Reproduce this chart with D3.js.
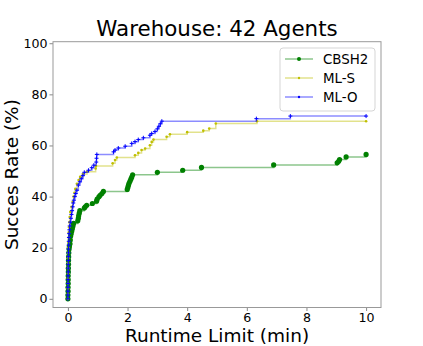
<!DOCTYPE html>
<html>
<head>
<meta charset="utf-8">
<script src="https://cdn.jsdelivr.net/npm/d3@7"></script>
<style>
	body { margin: 0; background: #fff; }
	svg text { font-family: "DejaVu Sans", sans-serif; fill: #000; }
</style>
</head>
<body>
<div id="chart"></div>
<script>

// runtime limit (min) / success rate (%)
var cbsh2Times = [0, 0, 0.005, 0.005, 0.01, 0.01, 0.01, 0.015, 0.015, 0.02, 0.02, 0.025, 0.03, 0.04, 0.05, 0.07, 0.08, 0.09, 0.11, 0.13, 0.15, 0.17, 0.19,
	0.33, 0.35, 0.36, 0.38, 0.40, 0.55, 0.58, 0.63, 0.82, 0.96, 0.98, 1.04, 1.08, 1.14, 1.19,
	1.99, 2.01, 2.03, 2.05, 2.08, 2.11, 2.14, 2.17, 3.0, 3.85, 4.48, 6.9, 9.03, 9.08, 9.11, 9.33, 10.0];
var cbsh2Rates = [0, 1.5, 3, 4.5, 6, 7.5, 9, 10.5, 12, 13.5, 15, 16.5, 18, 19.5, 20.5, 21.5, 23, 24.5, 25.5, 26.5, 27.5, 28.5, 29.5,
	30.5, 31.5, 32.5, 33.5, 34.5, 35.5, 36, 36.6, 37.3, 38.2, 39, 39.9, 40.5, 41.2, 42,
	42.8, 43.6, 44.4, 45.2, 46, 46.8, 47.6, 48.5, 49.5, 50.3, 51.4, 52.4, 53.2, 53.8, 54.5, 55.5, 56.5];

var mlsTimes = [0, 0, 0, 0.005, 0.005, 0.01, 0.01, 0.01, 0.015, 0.015, 0.02, 0.02, 0.025, 0.03, 0.04, 0.05, 0.06, 0.08, 0.12, 0.16, 0.19,
	0.22, 0.25, 0.3, 0.36, 0.41, 0.5, 0.64, 0.93, 0.94, 1.5, 1.58, 1.64, 2.25, 2.36, 2.47, 2.59, 2.75, 2.81, 2.87,
	3.31, 3.42, 4.0, 4.54, 4.74, 4.96, 6.34, 10.0];
var mlsRates = [0, 2, 4, 6, 8, 10, 12, 14, 16, 18, 20, 22, 24, 26, 28, 30, 32, 34, 36, 38, 40,
	41.5, 43, 45, 46.5, 47.7, 48.8, 49.7, 51, 52, 53, 54.3, 55.3, 56.2, 57.1, 58.2, 58.8, 60.1, 61.4, 62.3,
	63.4, 64.4, 65.2, 65.8, 66.6, 68.6, 69.5, 69.5];

var mloTimes = [0, 0, 0, 0, 0.005, 0.005, 0.005, 0.01, 0.01, 0.01, 0.015, 0.015, 0.02, 0.02, 0.025, 0.03, 0.035, 0.04, 0.05, 0.06, 0.08,
	0.1, 0.12, 0.14, 0.16, 0.18, 0.2, 0.23, 0.26, 0.3, 0.35, 0.4, 0.45, 0.5, 0.55, 0.69, 0.8, 0.87, 0.95, 0.96, 0.97,
	1.53, 1.58, 1.69, 1.92, 2.14, 2.25, 2.36, 2.53, 2.75, 2.81, 2.92, 3.0, 3.05, 3.1, 3.15, 6.32, 7.46, 10.0];
var mloRates = [0, 1.5, 3, 4.5, 6, 7.5, 9, 10.5, 12, 13.5, 15, 16.5, 18, 19.5, 21, 22.5, 24, 25.5, 27, 28.5, 30,
	31.5, 33, 34.5, 36, 37.5, 38.6, 40, 41.2, 42.5, 44.5, 45.8, 47, 48.2, 49.5, 50.3, 51.3, 52.3, 53.5, 55, 56.5,
	57.5, 58.2, 59, 59.7, 60.8, 61.5, 62.3, 63, 64, 64.7, 65.5, 66.5, 67.5, 68.5, 69.5, 70.5, 71.5, 71.5];

var seriesNames = ["CBSH2", "ML-S", "ML-O"];
var xTicks = [0, 2, 4, 6, 8, 10];
var yTicks = [0, 20, 40, 60, 80, 100];

var dimensions = {
	width: 423,
	height: 346,
	plot: { left: 53, right: 381, top: 41.7, bottom: 307.5 }
};

var styles = {
	"CBSH2": { color: "#008000", marker: "dot", r: 2.6 },
	"ML-S": { color: "#bfbf00", marker: "dot", r: 1.3 },
	"ML-O": { color: "#0000ff", marker: "plus", r: 2 }
};

var series = [
	{ name: "CBSH2", values: d3.zip(cbsh2Times, cbsh2Rates) },
	{ name: "ML-S", values: d3.zip(mlsTimes, mlsRates) },
	{ name: "ML-O", values: d3.zip(mloTimes, mloRates) }
];

var x = d3.scaleLinear().domain([-0.5, 10.5]).range([dimensions.plot.left, dimensions.plot.right]);
var y = d3.scaleLinear().domain([-3.4, 100.6]).range([dimensions.plot.bottom, dimensions.plot.top]);

var svg = d3.select("#chart")
	.append("svg")
	.attr("width", dimensions.width)
	.attr("height", dimensions.height);

svg.append("rect")
	.attr("width", dimensions.width)
	.attr("height", dimensions.height)
	.attr("fill", "#fff");

// axes
var xAxis = svg.append("g")
	.attr("transform", "translate(0," + dimensions.plot.bottom + ")")
	.call(d3.axisBottom(x).tickValues(xTicks).tickSize(3.5).tickPadding(2).tickSizeOuter(0));

var yAxis = svg.append("g")
	.attr("transform", "translate(" + dimensions.plot.left + ",0)")
	.call(d3.axisLeft(y).tickValues(yTicks).tickSize(3.5).tickPadding(2).tickSizeOuter(0));

[xAxis, yAxis].forEach(function(a) {
	a.select(".domain").remove();
	a.selectAll(".tick line").attr("stroke", "#888");
	a.selectAll(".tick text").attr("font-size", 12.6).attr("fill", "#111");
});

// frame
svg.append("rect")
	.attr("x", dimensions.plot.left)
	.attr("y", dimensions.plot.top)
	.attr("width", dimensions.plot.right - dimensions.plot.left)
	.attr("height", dimensions.plot.bottom - dimensions.plot.top)
	.attr("fill", "none")
	.attr("stroke", "#999")
	.attr("stroke-width", 1);

var line = d3.line()
	.x(function(d) { return x(d[0]); })
	.y(function(d) { return y(d[1]); })
	.curve(d3.curveStepAfter);

function drawMarker(g, cx, cy, st) {
	if (st.marker === "plus") {
		g.append("path")
			.attr("d", "M" + (cx - st.r) + "," + cy + "H" + (cx + st.r) + "M" + cx + "," + (cy - st.r) + "V" + (cy + st.r))
			.attr("stroke", st.color)
			.attr("stroke-width", 1);
	} else {
		g.append("circle")
			.attr("cx", cx)
			.attr("cy", cy)
			.attr("r", st.r)
			.attr("fill", st.color);
	}
}

series.forEach(function(s) {
	var st = styles[s.name];
	var g = svg.append("g").attr("class", "series");

	g.append("path")
		.datum(s.values)
		.attr("d", line)
		.attr("fill", "none")
		.attr("stroke", st.color)
		.attr("stroke-opacity", 0.45)
		.attr("stroke-width", 1.5);

	s.values.forEach(function(d) {
		drawMarker(g, x(d[0]), y(d[1]), st);
	});
});

// legend
var legend = svg.append("g").attr("transform", "translate(280,48)");

legend.append("rect")
	.attr("width", 95)
	.attr("height", 63)
	.attr("rx", 3)
	.attr("fill", "#fff")
	.attr("fill-opacity", 0.8)
	.attr("stroke", "#d5d5d5");

seriesNames.forEach(function(name, i) {
	var st = styles[name];
	var cy = 11 + i * 19;
	legend.append("line")
		.attr("x1", 5).attr("x2", 33)
		.attr("y1", cy).attr("y2", cy)
		.attr("stroke", st.color)
		.attr("stroke-opacity", 0.45)
		.attr("stroke-width", 1.5);
	drawMarker(legend, 19, cy, { color: st.color, marker: "dot", r: name === "CBSH2" ? 2 : 1.2 });
	legend.append("text")
		.attr("x", 43)
		.attr("y", cy)
		.attr("dy", "0.36em")
		.attr("font-size", 13.4)
		.text(name);
});

// titles
svg.append("text")
	.attr("x", (dimensions.plot.left + dimensions.plot.right) / 2)
	.attr("y", 36)
	.attr("text-anchor", "middle")
	.attr("font-size", 21.4)
	.text("Warehouse: 42 Agents");

svg.append("text")
	.attr("x", (dimensions.plot.left + dimensions.plot.right) / 2)
	.attr("y", 341.5)
	.attr("text-anchor", "middle")
	.attr("font-size", 18.5)
	.text("Runtime Limit (min)");

svg.append("text")
	.attr("transform", "translate(18," + ((dimensions.plot.top + dimensions.plot.bottom) / 2) + ") rotate(-90)")
	.attr("text-anchor", "middle")
	.attr("font-size", 18.5)
	.text("Succes Rate (%)");

</script>
</body>
</html>
